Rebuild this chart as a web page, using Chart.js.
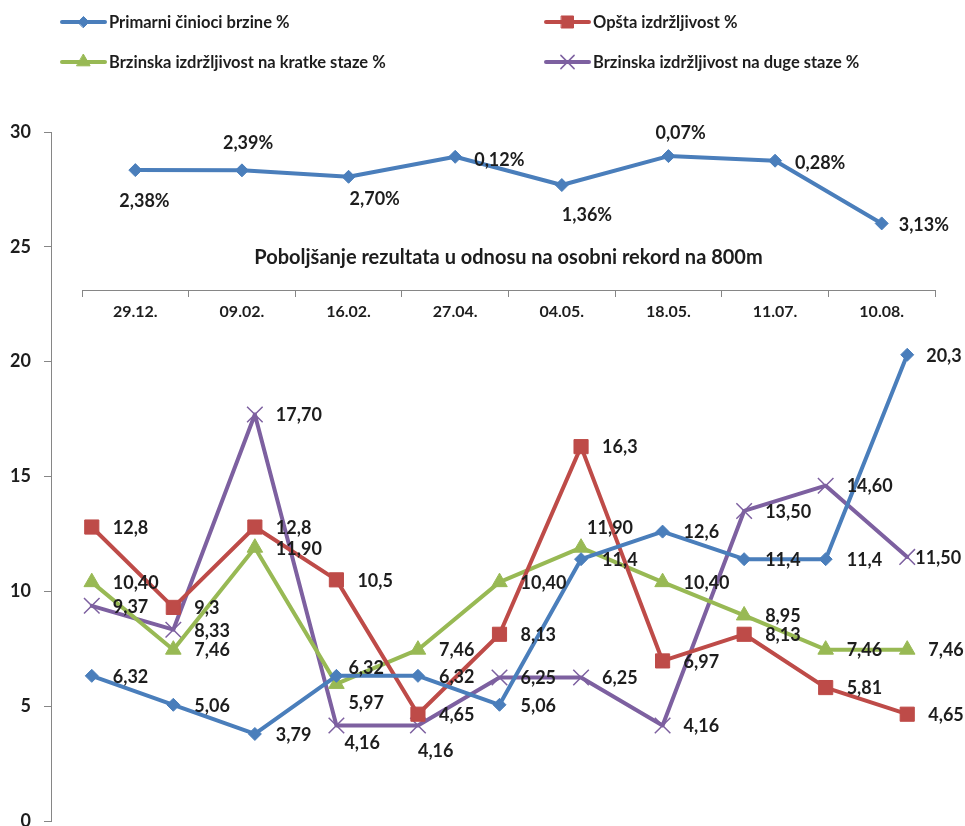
<!DOCTYPE html>
<html>
<head>
<meta charset="utf-8">
<script src="https://cdn.jsdelivr.net/npm/chart.js@4/dist/chart.umd.min.js"></script>
<style>
  html, body { margin: 0; padding: 0; background: #ffffff; }
  canvas { display: block; }
</style>
</head>
<body>
<canvas id="grafikon" width="965" height="826"></canvas>
<script>
// donji dio: jedanaest mjerenja po grupama sposobnosti (%)
const mjerenja = ['1', '2', '3', '4', '5', '6', '7', '8', '9', '10', '11'];
const primarni = [6.32, 5.06, 3.79, 6.32, 6.32, 5.06, 11.4, 12.6, 11.4, 11.4, 20.3];
const opsta = [12.8, 9.3, 12.8, 10.5, 4.65, 8.13, 16.3, 6.97, 8.13, 5.81, 4.65];
const kratkeStaze = [10.40, 7.46, 11.90, 5.97, 7.46, 10.40, 11.90, 10.40, 8.95, 7.46, 7.46];
const dugeStaze = [9.37, 8.33, 17.70, 4.16, 4.16, 6.25, 6.25, 4.16, 13.50, 14.60, 11.50];

// gornji dio: 800m po datumima
const datumi = ['29.12.', '09.02.', '16.02.', '27.04.', '04.05.', '18.05.', '11.07.', '10.08.'];
const rezultat800 = [28.34, 28.33, 28.05, 28.92, 27.69, 28.95, 28.75, 26.02];
const poboljsanje = [2.38, 2.39, 2.70, 0.12, 1.36, 0.07, 0.28, 3.13];

const yMin = 0;
const yMax = 30;
const yKorak = 5;

const BOJA_TEKSTA = '#1d1d1d';
const BOJA_OSI = '#868686';
const FONT = 'Lato';

// pomaci oznaka od tocke [dx, dy]
const D = [21, 1];
const pomaciPrimarni = [D, D, D, [12, -8], D, D, D, D, D, D, [19, 1]];
const pomaciOpsta = [D, D, D, D, D, D, D, D, D, D, D];
const pomaciKratke = [D, D, D, [12, 19], D, D, [6, -20], D, D, D, D];
const pomaciDuge = [D, D, D, [8, 18], [0, 26], D, D, D, D, D, [8, 1]];
const pomaci800 = [[-16, 31], [-19, -27], [1, 22], [19, 3], [0, 30], [-13, -23], [20, 2], [17, 2]];

const zarez = v => String(v).replace('.', ',');
const dvijeDec = v => v.toFixed(2).replace('.', ',');

function serija(label, data, boja, stil, radius, borderW, tekstovi, pomaci, extra) {
  return Object.assign({
    label,
    data,
    xAxisID: 'x',
    yAxisID: 'y',
    borderColor: boja,
    backgroundColor: boja,
    borderWidth: 4,
    borderJoinStyle: 'round',
    borderCapStyle: 'round',
    tension: 0,
    pointStyle: stil,
    pointRadius: radius,
    pointHoverRadius: radius,
    pointBorderWidth: borderW,
    pointBackgroundColor: boja,
    pointBorderColor: boja,
    tekstovi,
    pomaci,
    uLegendi: true
  }, extra || {});
}

const datasets = [
  serija('Primarni činioci brzine %', primarni, '#4A7EBB', 'rectRot', 6.5, 1,
    primarni.map(zarez), pomaciPrimarni),
  serija('Opšta izdržljivost %', opsta, '#BE4B48', 'rect', 10, 1,
    opsta.map(zarez), pomaciOpsta),
  serija('Brzinska izdržljivost na kratke staze %', kratkeStaze, '#98B954', 'triangle', 9, 1,
    kratkeStaze.map(dvijeDec), pomaciKratke),
  serija('Brzinska izdržljivost na duge staze %', dugeStaze, '#7D60A0', 'crossRot', 11, 1.5,
    dugeStaze.map(dvijeDec), pomaciDuge),
  serija('800m', rezultat800, '#4A7EBB', 'rectRot', 6.5, 1,
    poboljsanje.map(v => dvijeDec(v) + '%'), pomaci800, { xAxisID: 'x2', uLegendi: false })
];

// os datuma zauzima samo dio sirine
const umetakOsi = { lijevo: 31, desno: 13 };

const drugaOs = {
  id: 'drugaOs',
  afterLayout(chart) {
    const s = chart.scales.x2;
    const a = chart.chartArea;
    s.left = a.left + umetakOsi.lijevo;
    s.right = a.right - umetakOsi.desno;
    s.width = s.right - s.left;
    s.configure();
    s._gridLineItems = null;
    s._labelItems = null;
  }
};

const oznake = {
  id: 'oznake',
  afterDatasetsDraw(chart) {
    const ctx = chart.ctx;
    ctx.save();
    ctx.font = 'bold 18px ' + FONT;
    ctx.fillStyle = BOJA_TEKSTA;
    ctx.textAlign = 'left';
    ctx.textBaseline = 'middle';
    chart.data.datasets.forEach((ds, di) => {
      const meta = chart.getDatasetMeta(di);
      meta.data.forEach((pt, i) => {
        const [dx, dy] = ds.pomaci[i];
        ctx.fillText(ds.tekstovi[i], pt.x + dx, pt.y + dy);
      });
    });
    ctx.restore();
  }
};

const legenda = {
  id: 'legenda',
  afterDraw(chart) {
    const ctx = chart.ctx;
    const stupci = [62, 546];
    const redovi = [22, 62];
    const duljina = 43;
    chart.data.datasets.filter(ds => ds.uLegendi).forEach((ds, i) => {
      const x = stupci[i % 2];
      const y = redovi[Math.floor(i / 2)];
      ctx.save();
      ctx.strokeStyle = ds.borderColor;
      ctx.fillStyle = ds.borderColor;
      ctx.lineWidth = 4;
      ctx.lineCap = 'round';
      ctx.beginPath();
      ctx.moveTo(x, y);
      ctx.lineTo(x + duljina, y);
      ctx.stroke();
      ctx.lineWidth = ds.pointBorderWidth;
      Chart.helpers.drawPoint(ctx, {
        pointStyle: ds.pointStyle,
        radius: ds.pointRadius * 0.85,
        borderWidth: ds.pointBorderWidth,
        rotation: 0
      }, x + duljina / 2, y);
      ctx.font = 'bold 16.5px ' + FONT;
      ctx.fillStyle = BOJA_TEKSTA;
      ctx.textAlign = 'left';
      ctx.textBaseline = 'middle';
      ctx.fillText(ds.label, x + duljina + 4, y + 1);
      ctx.restore();
    });
  }
};

new Chart(document.getElementById('grafikon'), {
  type: 'line',
  data: { labels: mjerenja, datasets },
  plugins: [drugaOs, oznake, legenda],
  options: {
    responsive: false,
    animation: false,
    layout: {
      autoPadding: false,
      padding: { top: 132, left: 0, right: 17, bottom: 5 }
    },
    plugins: {
      legend: { display: false },
      tooltip: { enabled: false }
    },
    scales: {
      x: {
        type: 'category',
        display: false,
        offset: true
      },
      x2: {
        type: 'category',
        axis: 'x',
        labels: datumi,
        offset: true,
        position: { y: 23.1 },
        grid: {
          offset: true,
          drawOnChartArea: false,
          drawTicks: true,
          tickLength: 6,
          color: BOJA_OSI
        },
        border: { color: BOJA_OSI, width: 1 },
        ticks: {
          font: { family: FONT, weight: 'bold', size: 16 },
          color: BOJA_TEKSTA,
          padding: 6,
          maxRotation: 0,
          autoSkip: false
        },
        title: {
          display: true,
          text: 'Poboljšanje rezultata u odnosu na osobni rekord na 800m',
          font: { family: FONT, weight: 'bold', size: 20 },
          color: BOJA_TEKSTA,
          padding: { top: 0, bottom: 21 }
        },
        afterFit(s) {
          s.height = 0;
          s.paddingLeft = 0;
          s.paddingRight = 0;
        }
      },
      y: {
        min: yMin,
        max: yMax,
        ticks: {
          stepSize: yKorak,
          font: { family: FONT, weight: 'bold', size: 18 },
          color: BOJA_TEKSTA,
          padding: 13
        },
        grid: {
          drawOnChartArea: false,
          tickLength: 7,
          color: BOJA_OSI
        },
        border: { color: BOJA_OSI, width: 1 },
        afterFit(s) {
          s.width = 51;
          s.paddingTop = 0;
          s.paddingBottom = 0;
        }
      }
    }
  }
});
</script>
</body>
</html>
